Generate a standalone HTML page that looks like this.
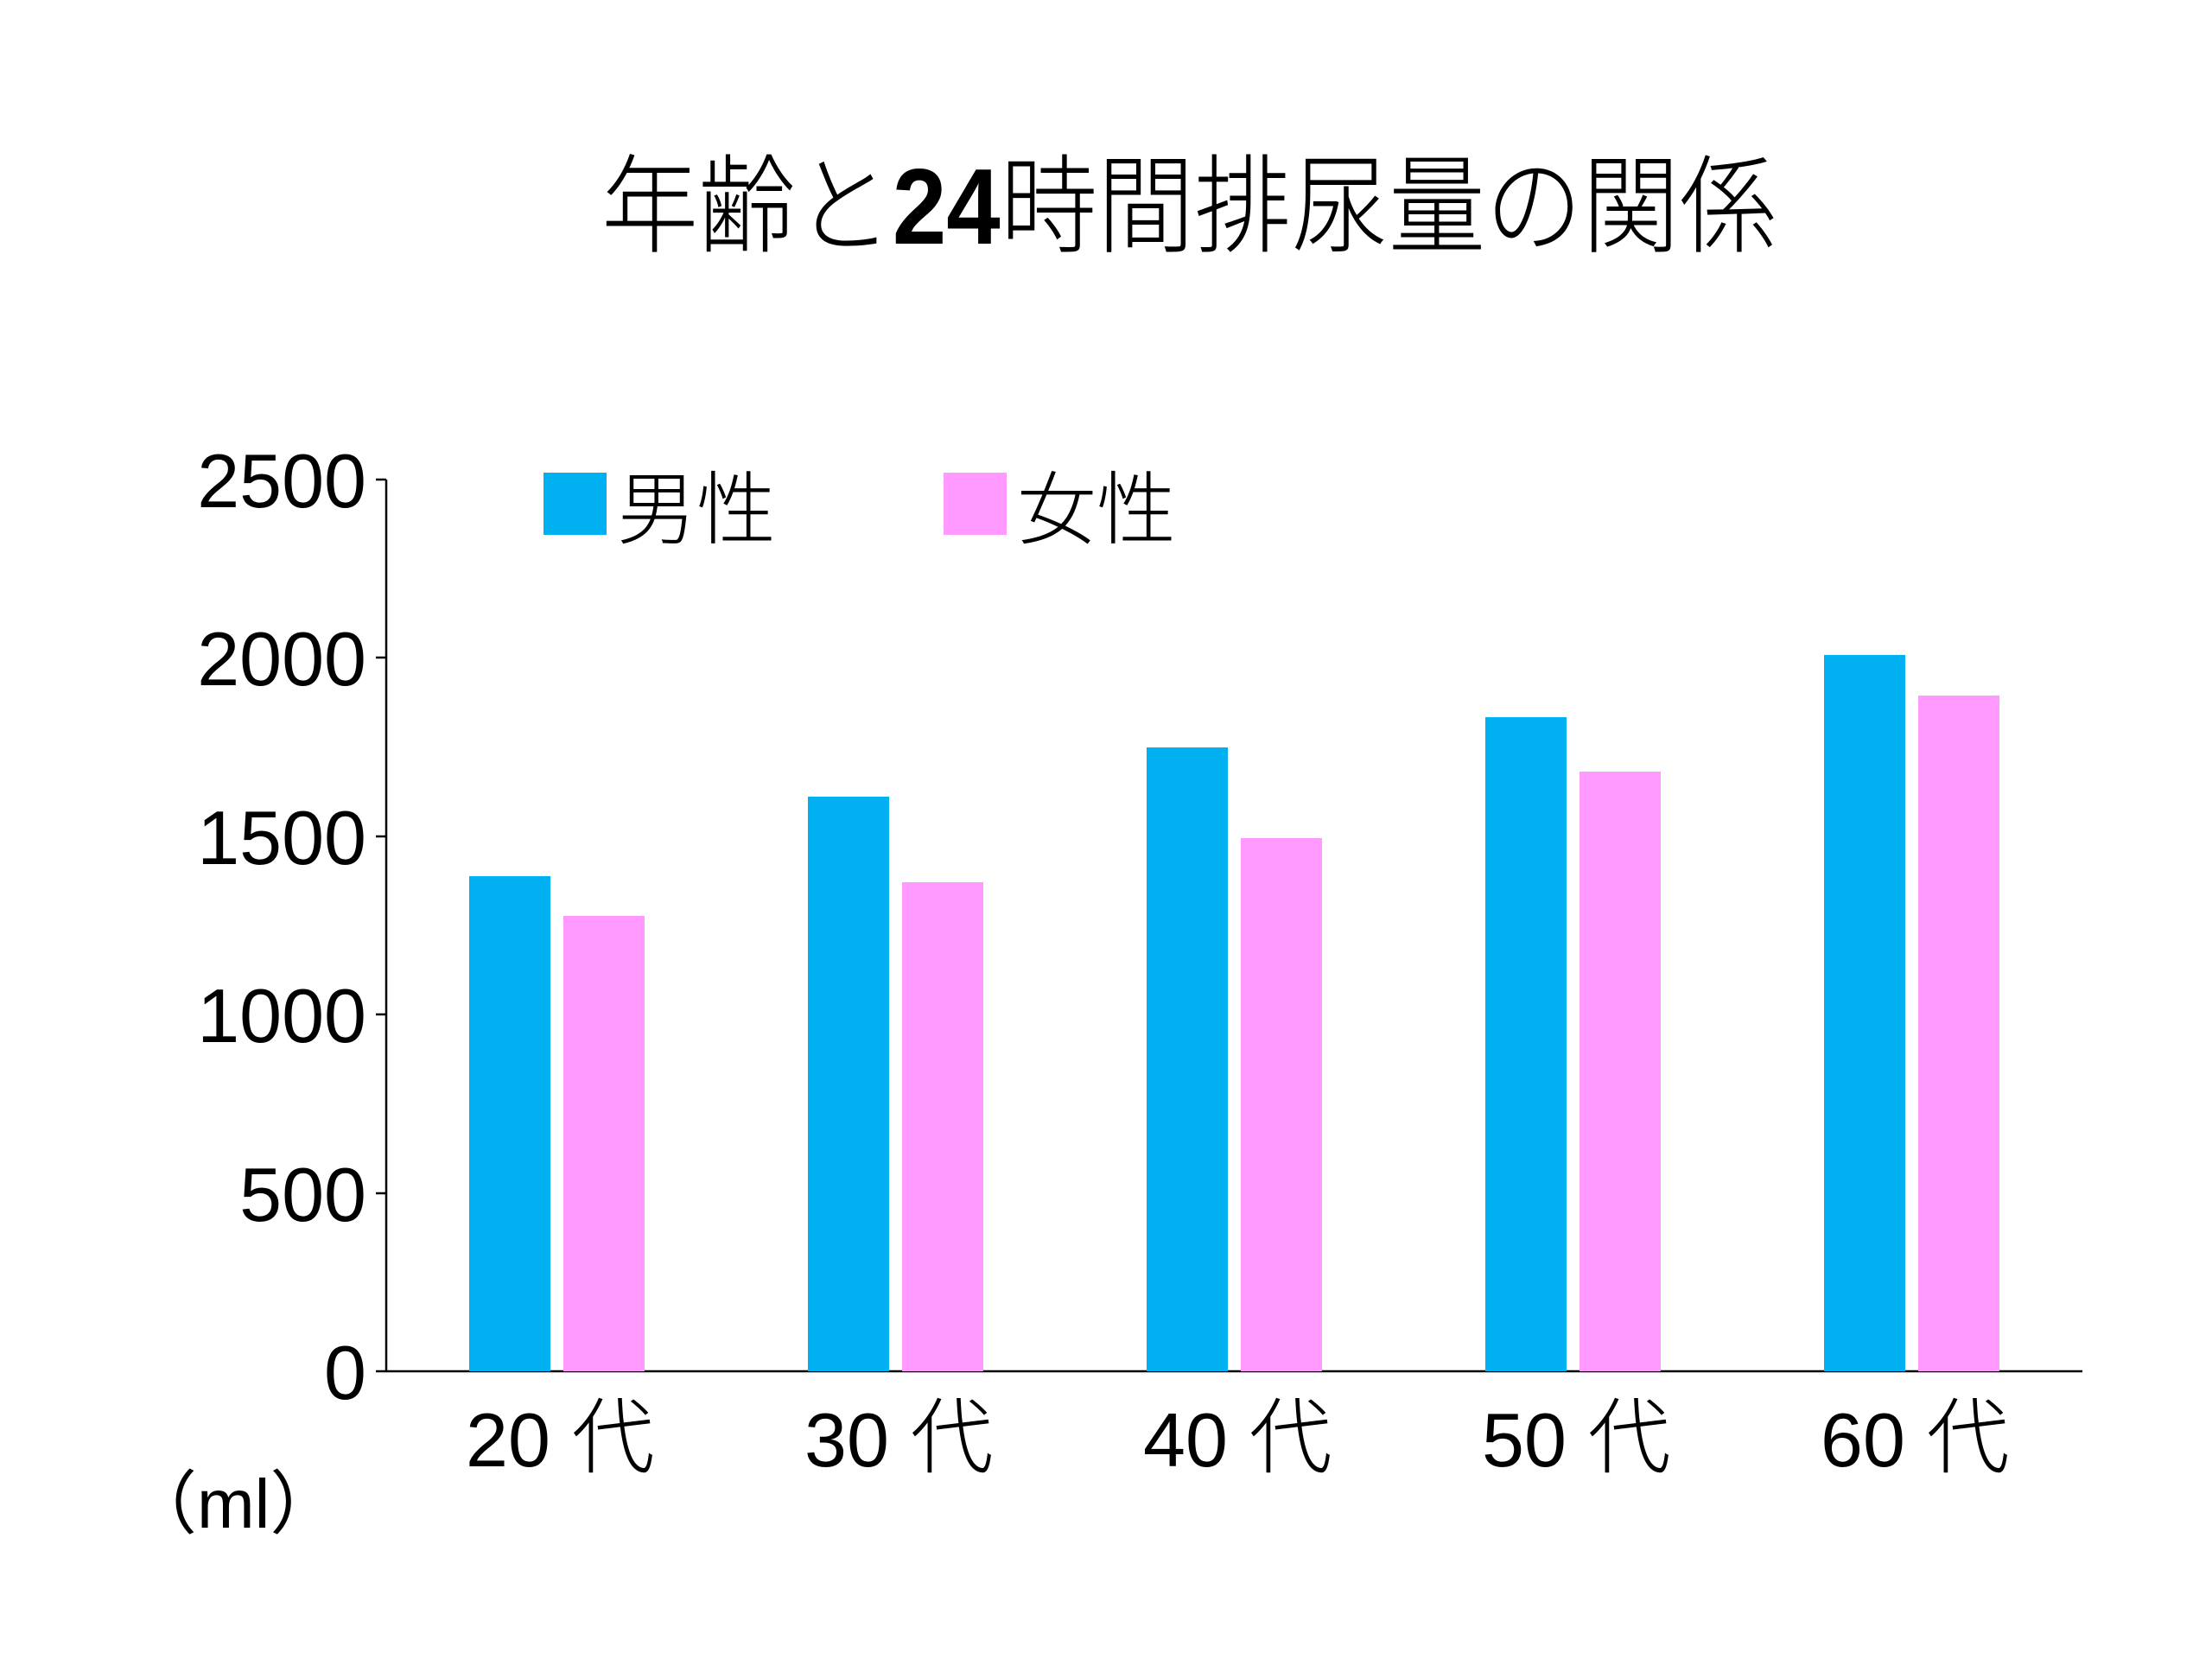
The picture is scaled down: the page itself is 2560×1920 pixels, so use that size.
<!DOCTYPE html>
<html><head><meta charset="utf-8"><style>
html,body{margin:0;padding:0;background:#fff;}
svg{display:block;}
text{font-family:"Liberation Sans","Noto Sans CJK JP",sans-serif;fill:#000;}
.cjk{font-family:"Noto Sans CJK JP","Liberation Sans",sans-serif;font-weight:300;}
</style></head><body>
<svg width="2560" height="1920" viewBox="0 0 2560 1920" xmlns="http://www.w3.org/2000/svg">
<rect width="2560" height="1920" fill="#fff"/>
<text x="1376" y="282" font-size="124" text-anchor="middle" textLength="1360" lengthAdjust="spacingAndGlyphs"><tspan class="cjk">年齢と</tspan><tspan font-weight="bold">24</tspan><tspan class="cjk">時間排尿量の関係</tspan></text>
<line x1="447" y1="555" x2="447" y2="1587" stroke="#000" stroke-width="2.5"/>
<line x1="435" y1="1587" x2="2410" y2="1587" stroke="#000" stroke-width="2.5"/>
<g stroke="#000" stroke-width="2.5">
<line x1="435" y1="555" x2="447" y2="555"/>
<line x1="435" y1="761" x2="447" y2="761"/>
<line x1="435" y1="968" x2="447" y2="968"/>
<line x1="435" y1="1174" x2="447" y2="1174"/>
<line x1="435" y1="1381" x2="447" y2="1381"/>
</g>
<g font-size="88" text-anchor="end">
<text x="424" y="587">2500</text>
<text x="424" y="793">2000</text>
<text x="424" y="1000">1500</text>
<text x="424" y="1206">1000</text>
<text x="424" y="1413">500</text>
<text x="424" y="1619">0</text>
</g>
<g fill="#00B0F0">
<rect x="543" y="1014" width="94" height="573"/>
<rect x="935" y="922" width="94" height="665"/>
<rect x="1327" y="865" width="94" height="722"/>
<rect x="1719" y="830" width="94" height="757"/>
<rect x="2111" y="758" width="94" height="829"/>
</g>
<g fill="#FF99FF">
<rect x="652" y="1060" width="94" height="527"/>
<rect x="1044" y="1021" width="94" height="566"/>
<rect x="1436" y="970" width="94" height="617"/>
<rect x="1828" y="893" width="94" height="694"/>
<rect x="2220" y="805" width="94" height="782"/>
</g>
<g font-size="88">
<text x="539" y="1697">20 <tspan class="cjk" font-size="96">代</tspan></text>
<text x="931" y="1697">30 <tspan class="cjk" font-size="96">代</tspan></text>
<text x="1323" y="1697">40 <tspan class="cjk" font-size="96">代</tspan></text>
<text x="1715" y="1697">50 <tspan class="cjk" font-size="96">代</tspan></text>
<text x="2107" y="1697">60 <tspan class="cjk" font-size="96">代</tspan></text>
</g>
<rect x="629" y="547" width="73" height="72" fill="#00B0F0"/>
<text class="cjk" x="714" y="622" font-size="92">男性</text>
<rect x="1092" y="547" width="73" height="72" fill="#FF99FF"/>
<text class="cjk" x="1177" y="622" font-size="92">女性</text>
<text x="148" y="1768" font-size="80">（ml）</text>
</svg>
</body></html>
